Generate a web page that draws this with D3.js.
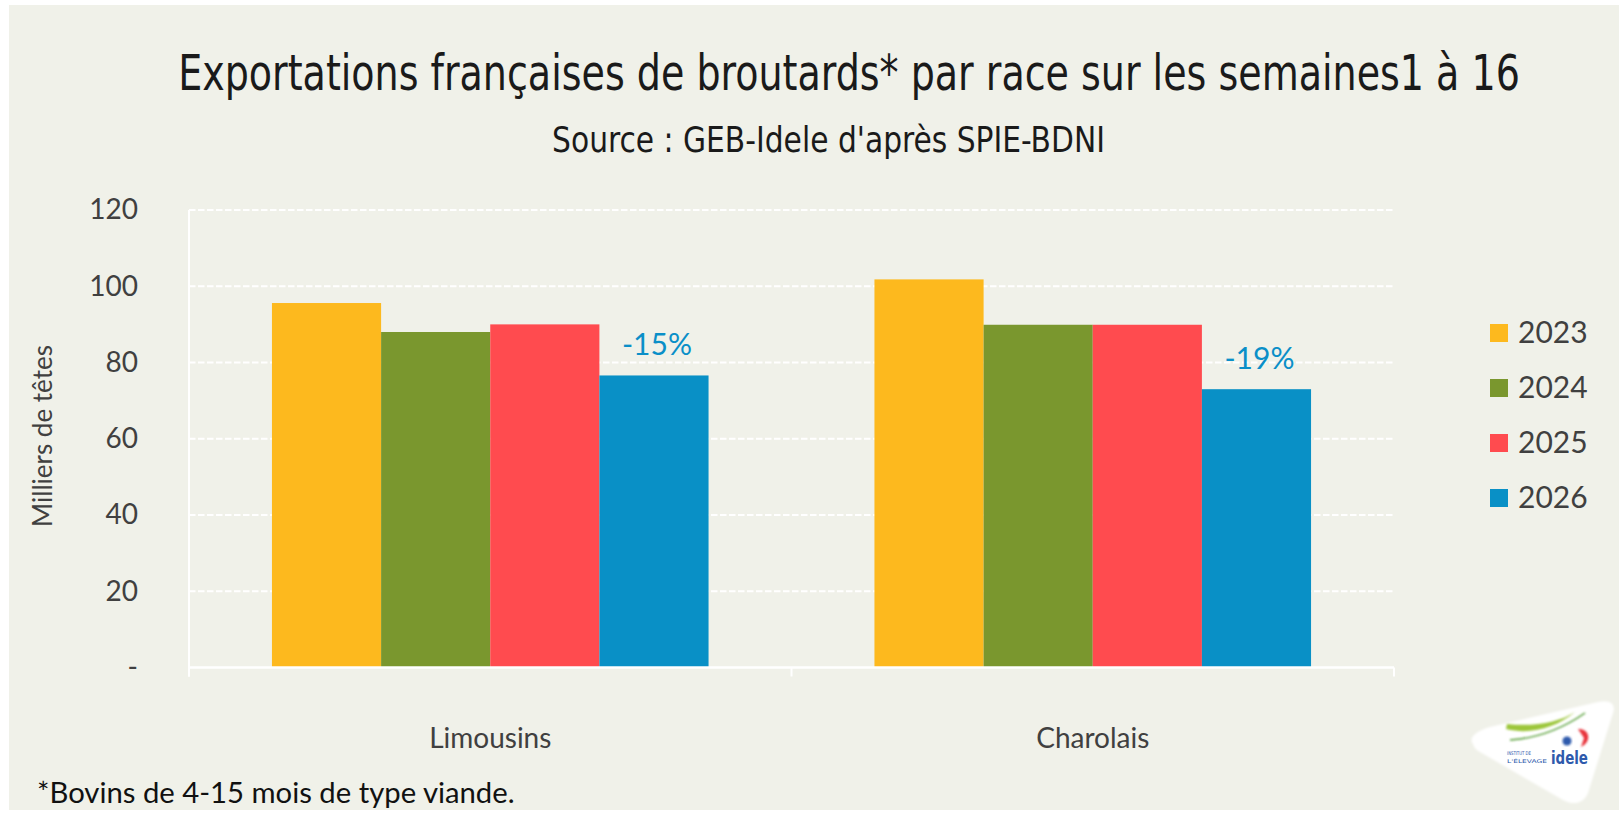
<!DOCTYPE html>
<html>
<head>
<meta charset="utf-8">
<script src="https://cdn.jsdelivr.net/npm/d3@7"></script>
<style>
  body { margin: 0; background: #fff; }
  svg { display: block; }
</style>
</head>
<body>
<svg width="1619" height="814"></svg>
<script>
const categories = ["Limousins", "Charolais"];
const years = ["2023", "2024", "2025", "2026"];
const values2023 = [95.6, 101.8];
const values2024 = [88.0, 89.9];
const values2025 = [90.0, 89.9];
const values2026 = [76.6, 73.0];
const changeLabels = ["-15%", "-19%"];
const yTicks = [0, 20, 40, 60, 80, 100, 120];
const colors = ["#FDB91E", "#7A972E", "#FF4B4F", "#0990C6"];

const seriesValues = [values2023, values2024, values2025, values2026];
const width = 1619;
const plot = { left: 189, right: 1394, top: 210, bottom: 667.5 };
const textFont = "Lato, 'Open Sans', sans-serif";
const narrowFont = "'Liberation Sans Narrow', 'DejaVu Sans Condensed', 'Noto Sans', sans-serif";

const svg = d3.select("svg");

// background panel
svg.append("rect").attr("x", 9).attr("y", 5).attr("width", width - 9).attr("height", 805).attr("fill", "#F0F1E9");

const x0 = d3.scaleBand().domain(categories).range([plot.left, plot.right]).paddingInner(0).paddingOuter(0);
const x1 = d3.scaleBand().domain(years).range([0, x0.bandwidth()]).paddingInner(0).paddingOuter(0.76);
const y = d3.scaleLinear().domain([0, 120]).range([plot.bottom, plot.top]);

// put a text at (x, y) and squeeze it horizontally to width w
function fitText(g, str, x, yy, w, anchor, attrs) {
  const t = g.append("text").attr("text-anchor", anchor).text(str);
  Object.entries(attrs).forEach(([k, v]) => t.attr(k, v));
  const natural = t.node().getComputedTextLength();
  const k = w / natural;
  t.attr("transform", `translate(${x},${yy}) scale(${k},1)`);
  return t;
}

// titles
fitText(svg, "Exportations françaises de broutards* par race sur les semaines1 à 16", 849, 90, 1342, "middle",
  { "font-family": narrowFont, "font-size": 50, fill: "#1a1a1a" });
fitText(svg, "Source : GEB-Idele d'après SPIE-BDNI", 828.5, 152, 553, "middle",
  { "font-family": narrowFont, "font-size": 36, fill: "#1a1a1a" });

// gridlines
svg.append("g").selectAll("line").data(yTicks.filter(d => d > 0)).join("line")
  .attr("x1", plot.left).attr("x2", plot.right)
  .attr("y1", d => y(d)).attr("y2", d => y(d))
  .attr("stroke", "#fff").attr("stroke-width", 2).attr("stroke-dasharray", "6.5,2.5");

// y axis labels
const yAxis = svg.append("g").attr("transform", `translate(${plot.left},0)`)
  .call(d3.axisLeft(y).tickValues(yTicks).tickSize(0).tickPadding(51)
    .tickFormat(d => d === 0 ? "-" : d));
yAxis.select(".domain").remove();
yAxis.selectAll("text").attr("font-family", textFont).attr("font-size", 28).attr("fill", "#404040");

svg.append("text").attr("transform", "translate(52,436) rotate(-90)").attr("text-anchor", "middle")
  .attr("font-family", textFont).attr("font-size", 26).attr("fill", "#404040")
  .text("Milliers de têtes");

// bars
const groups = svg.append("g").selectAll("g").data(categories).join("g")
  .attr("transform", c => `translate(${x0(c)},0)`);
groups.selectAll("rect")
  .data((c, i) => years.map((yr, k) => ({ yr, v: seriesValues[k][i], k })))
  .join("rect")
  .attr("x", d => x1(d.yr))
  .attr("width", x1.bandwidth())
  .attr("y", d => y(d.v))
  .attr("height", d => y(0) - y(d.v))
  .attr("fill", d => colors[d.k]);

// change labels over the 2026 bars
groups.append("text")
  .attr("x", x1("2026") + x1.bandwidth() / 2 + 3)
  .attr("y", (c, i) => y(values2026[i]) - 20.5)
  .attr("text-anchor", "middle")
  .attr("font-family", textFont).attr("font-size", 30).attr("fill", "#0A8FC8")
  .text((c, i) => changeLabels[i]);

// axes lines
svg.append("line").attr("x1", plot.left).attr("x2", plot.left).attr("y1", plot.top).attr("y2", plot.bottom + 9)
  .attr("stroke", "#fff").attr("stroke-width", 2);
svg.append("line").attr("x1", plot.left).attr("x2", plot.right).attr("y1", plot.bottom).attr("y2", plot.bottom)
  .attr("stroke", "#fff").attr("stroke-width", 2.5);
const bounds = categories.map(c => x0(c)).concat([x0.range()[1]]);
svg.append("g").selectAll("line").data(bounds).join("line")
  .attr("x1", d => d).attr("x2", d => d).attr("y1", plot.bottom).attr("y2", plot.bottom + 9)
  .attr("stroke", "#fff").attr("stroke-width", 2);

svg.append("g").selectAll("text").data(categories).join("text")
  .attr("x", c => x0(c) + x0.bandwidth() / 2)
  .attr("y", 748)
  .attr("text-anchor", "middle")
  .attr("font-family", textFont).attr("font-size", 28).attr("fill", "#404040")
  .text(c => c);

// legend
const legend = svg.append("g").selectAll("g").data(years).join("g")
  .attr("transform", (d, i) => `translate(1490,${324 + i * 55})`);
legend.append("rect").attr("width", 18).attr("height", 18).attr("fill", (d, i) => colors[i]);
legend.append("text").attr("x", 28).attr("y", 19)
  .attr("font-family", textFont).attr("font-size", 30).attr("fill", "#404040")
  .text(d => d);

// footnote
fitText(svg, "*Bovins de 4-15 mois de type viande.", 37, 803, 478, "start",
  { "font-family": textFont, "font-size": 28, fill: "#111" });

// logo
const defs = svg.append("defs");
defs.append("filter").attr("id", "soft").append("feGaussianBlur").attr("stdDeviation", 1.2);
const logo = svg.append("g");
logo.append("path")
  .attr("d", "M1473,744 C1468,738 1476,731 1490,727 L1598,702 C1611,699 1616,705 1613,713 L1588,793 C1584,803 1574,806 1563,800 L1480,752 C1475,749 1474,747 1473,744 Z")
  .attr("fill", "#fff").attr("filter", "url(#soft)");
logo.append("path")
  .attr("d", "M1506,729 C1530,735 1556,728 1575,712 C1560,722 1535,727 1507,724 Z")
  .attr("fill", "#9CC63B").attr("filter", "url(#soft)");
logo.append("path")
  .attr("d", "M1510,740 C1540,738 1565,727 1585,713")
  .attr("fill", "none").attr("stroke", "#4E9A2E").attr("stroke-width", 1.5).attr("filter", "url(#soft)");
logo.append("path")
  .attr("d", "M1578,729 C1590,728 1592,742 1581,747 L1584,738 Z")
  .attr("fill", "#E8333A").attr("filter", "url(#soft)");
logo.append("circle").attr("cx", 1567).attr("cy", 741).attr("r", 4.5).attr("fill", "#2E5AAC").attr("filter", "url(#soft)");
fitText(logo, "idele", 1551, 764, 37, "start",
  { "font-family": "'DejaVu Sans', sans-serif", "font-weight": "bold", "font-size": 17, fill: "#2E5AAC" });
fitText(logo, "INSTITUT DE", 1507, 755, 24, "start",
  { "font-family": "'DejaVu Sans', sans-serif", "font-size": 5, fill: "#2E5AAC" });
fitText(logo, "L'ÉLEVAGE", 1507, 763, 40, "start",
  { "font-family": "'DejaVu Sans', sans-serif", "font-size": 5, fill: "#2E5AAC" });
</script>
</body>
</html>
